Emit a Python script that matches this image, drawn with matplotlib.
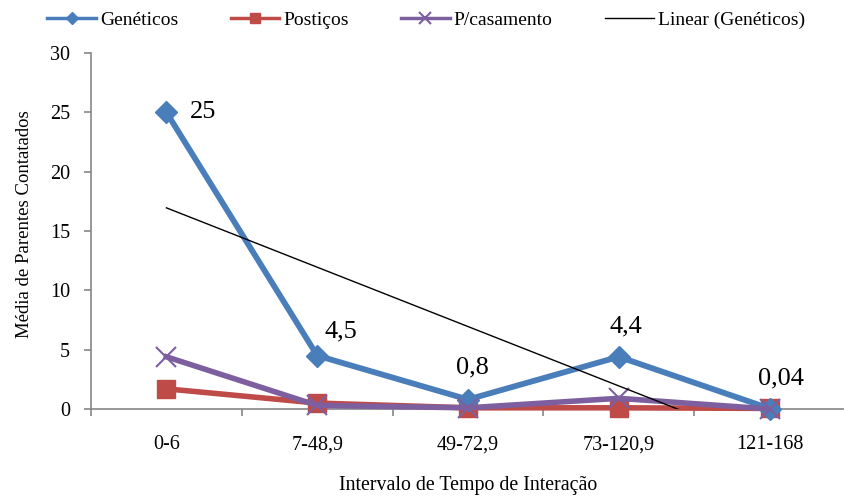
import numpy as np
import matplotlib
matplotlib.use("Agg")
import matplotlib.pyplot as plt

plt.rcParams['font.family'] = ['Liberation Serif', 'DejaVu Serif']

categorias = ['0-6', '7-48,9', '49-72,9', '73-120,9', '121-168']
geneticos = [25, 4.5, 0.8, 4.4, 0.04]
posticos = [1.7, 0.5, 0.1, 0.1, 0.05]
casamento = [4.4, 0.3, 0.1, 0.9, 0.0]
rotulos = ['25', '4,5', '0,8', '4,4', '0,04']

azul = '#4A7EBB'
vermelho = '#BE4B48'
roxo = '#7D5FA0'
cinza = '#868686'

fig = plt.figure(figsize=(8.45, 4.97), dpi=100)
ax = fig.add_axes([91/845, 1-409/497, 1-91/845, (409-53)/497])

x = np.arange(len(categorias))

ax.plot(x, geneticos, color=azul, lw=4.2, marker='D', ms=11, mfc=azul, mec=azul,
        label='Genéticos', clip_on=False, zorder=4)
ax.plot(x, posticos, color=vermelho, lw=4, marker='s', ms=13, mfc=vermelho, mec=vermelho,
        label='Postiços', clip_on=False, zorder=3)
ax.plot(x, casamento, color=roxo, lw=4, marker='x', ms=14, mew=1.5, mec=roxo,
        label='P/casamento', clip_on=False, zorder=5)

# linha de tendencia linear (Genéticos), cortada no eixo
a, b = np.polyfit(x + 1, geneticos, 1)
xt = np.linspace(0, len(x) - 1, 200)
ax.plot(xt, a * (xt + 1) + b, color='black', lw=1, label='Linear (Genéticos)', zorder=6)

# rotulos dos dados (deslocamento em pixels)
offs = [(23, 0), (24, 24), (4, 32), (7, 30), (11, 30)]
for i, t in enumerate(rotulos):
    dx, dy = offs[i]
    ha = 'left' if i == 0 else 'center'
    ax.annotate(t, (x[i], geneticos[i]), xytext=(dx, dy), textcoords='offset pixels',
                fontsize=19, ha=ha, va='center', zorder=7, annotation_clip=False)

ax.set_xlim(-0.5, len(x) - 0.5)
ax.set_ylim(0, 30)
ax.set_yticks(range(0, 31, 5))
ax.set_xticks(x)
ax.set_xticklabels(categorias)
ax.set_xticks(np.arange(-0.5, len(x), 1), minor=True)
ax.tick_params(axis='x', which='major', length=0, pad=19, labelsize=14.5)
ax.tick_params(axis='x', which='minor', length=5, width=1.2, color=cinza, direction='out')
ax.tick_params(axis='y', length=5, width=1.2, color=cinza, labelsize=14.5, pad=10)

for s in ['top', 'right']:
    ax.spines[s].set_visible(False)
for s in ['left', 'bottom']:
    ax.spines[s].set_color(cinza)
    ax.spines[s].set_linewidth(1.2)

ax.set_ylabel('Média de Parentes Contatados', fontsize=13.5)
ax.yaxis.set_label_coords((33 - 91) / 754, (409 - 224) / 356)
ax.set_xlabel('Intervalo de Tempo de Interação', fontsize=14.3, va='top')
ax.xaxis.set_label_coords(0.5, (409 - 476) / 356)

leg = fig.legend(loc='center', bbox_to_anchor=(426/845, 1 - 20/497), ncol=4, frameon=False,
                 fontsize=14, handlelength=2.5, columnspacing=2.7, handletextpad=0.2,
                 markerscale=0.6, borderpad=0)
for h in leg.get_lines()[:3]:
    h.set_linewidth(2.5)

fig.savefig('out.png', dpi=100)
